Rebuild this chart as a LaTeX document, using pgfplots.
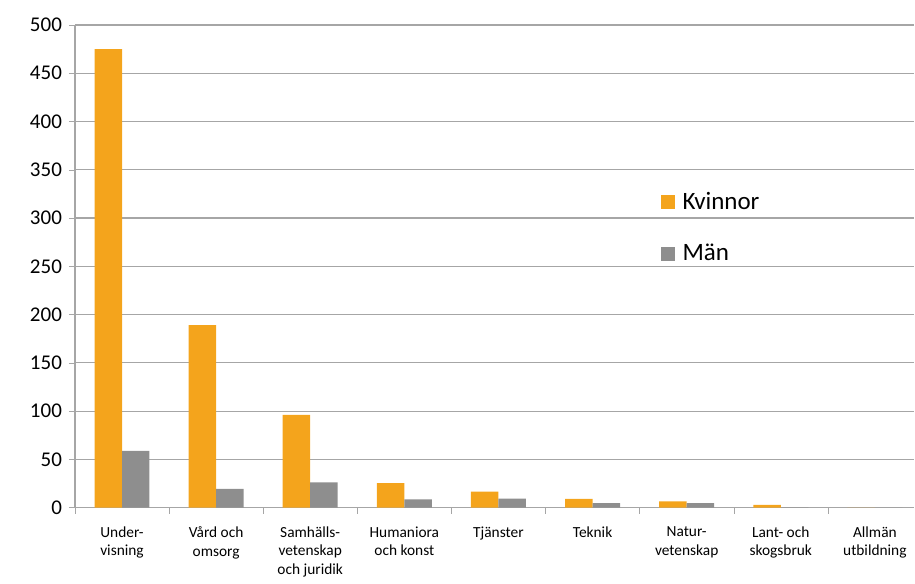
\documentclass[border=0pt]{standalone}
\usepackage{fontspec}
\setmainfont{Carlito}
\usepackage{pgfplots}
\pgfplotsset{compat=1.18}

\definecolor{kvinnor}{HTML}{F4A41C}
\definecolor{man}{HTML}{8E8E8E}
\definecolor{gridgray}{HTML}{A6A6A6}

\begin{document}
\begin{tikzpicture}
\begin{axis}[
    scale only axis,
    width=420pt, height=241.5pt,
    ybar=0pt, bar width=13.75pt,
    xmin=-0.5, xmax=8.42,
    ymin=0, ymax=500,
    ytick={0,50,...,500},
    xtick={0,...,8},
    xticklabels={Under-\\visning, Vård och\\omsorg, Samhälls-\\vetenskap\\och juridik,
        Humaniora\\och konst, Tjänster, Teknik, Natur-\\vetenskap,
        Lant- och\\skogsbruk, Allmän\\utbildning},
    xticklabel style={align=center, font=\fontsize{7.7}{9.3}\selectfont, yshift=-3pt},
    yticklabel style={font=\fontsize{10.5}{12}\selectfont},
    /pgf/number format/assume math mode=true,
    major x tick style={draw=none},
    minor xtick={-0.5,0.5,...,8.5},
    minor x tick style={gridgray},
    minor tick length=3pt,
    major tick length=3pt,
    tick align=outside,
    ytick pos=left,
    xtick pos=bottom,
    ymajorgrids,
    grid style={gridgray, line width=0.6pt},
    axis line style={gridgray, line width=0.6pt},
    axis x line*=bottom,
    axis y line*=left,
    y tick style={gridgray},
    clip=false,
    legend cell align=left,
    legend style={at={(rel axis cs:0.69,0.671)}, anchor=north west, draw=none, fill=none,
        font=\fontsize{12.5}{14}\selectfont, row sep=12pt,
        nodes={inner xsep=4pt}},
    legend image code/.code={\fill[#1] (0pt,-3.5pt) rectangle (7pt,3.5pt);},
]
\addplot[fill=kvinnor, draw=none] coordinates {(0,475) (1,189) (2,96) (3,25.5) (4,16.5) (5,9.2) (6,6.4) (7,2.8) (8,0)};
\addplot[fill=man, draw=none] coordinates {(0,58.7) (1,19.5) (2,26.3) (3,8.5) (4,9.4) (5,4.6) (6,4.6) (7,0.3) (8,0)};
\legend{Kvinnor, Män}
\path (rel axis cs:0,0) ++(-37.5pt,-32.5pt) coordinate (bl);
\path (rel axis cs:1,1) ++(0pt,12.5pt) coordinate (tr);
\path[use as bounding box] (bl) rectangle (tr);
\end{axis}
\end{tikzpicture}
\end{document}
